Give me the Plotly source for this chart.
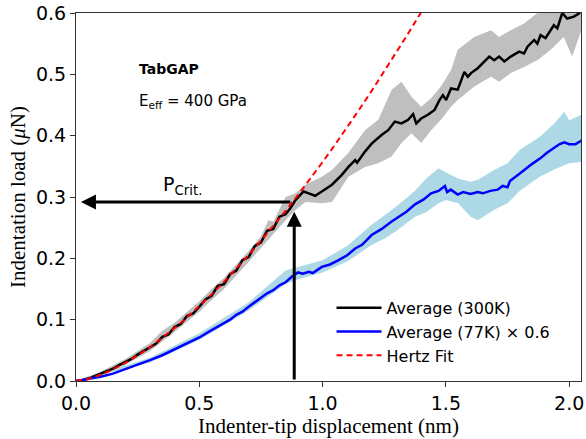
import plotly.graph_objects as go

# ---------------- data ----------------
# Hertz fit (red dashed)
hertz_x = [0.0, 0.05, 0.1, 0.15, 0.2, 0.25, 0.3, 0.35, 0.4, 0.45, 0.5, 0.55, 0.6, 0.65, 0.7,
           0.75, 0.8, 0.85, 0.9, 0.95, 1.0, 1.05, 1.1, 1.15, 1.2, 1.25, 1.3, 1.35, 1.4, 1.45]
hertz_y = [0.0, 0.0034, 0.0101, 0.0189, 0.0295, 0.0416, 0.0552, 0.0701, 0.0863, 0.1036, 0.1219,
           0.1413, 0.1617, 0.1831, 0.2054, 0.2286, 0.2526, 0.2775, 0.3032, 0.3297, 0.357, 0.385,
           0.4138, 0.4434, 0.4736, 0.5045, 0.5361, 0.5684, 0.6014, 0.635]

# Average 300K (black)
avg300_x = [0.0, 0.025, 0.05, 0.075, 0.1, 0.125, 0.15, 0.175, 0.2, 0.225, 0.25, 0.275, 0.3, 0.325,
            0.35, 0.375, 0.4, 0.425, 0.45, 0.475, 0.5, 0.525, 0.55, 0.575, 0.6, 0.625, 0.65, 0.675,
            0.7, 0.725, 0.75, 0.775, 0.8, 0.825, 0.85, 0.87, 0.89, 0.923, 0.944, 0.97, 0.997, 1.038,
            1.078, 1.105, 1.132, 1.14, 1.172, 1.199, 1.239, 1.266, 1.293, 1.32, 1.347, 1.367, 1.38,
            1.4, 1.427, 1.454, 1.474, 1.488, 1.501, 1.521, 1.548, 1.575, 1.589, 1.602, 1.629, 1.656,
            1.676, 1.696, 1.716, 1.737, 1.763, 1.797, 1.817, 1.831, 1.858, 1.871, 1.884, 1.904,
            1.925, 1.938, 1.952, 1.972, 1.992, 2.019, 2.039, 2.05]
avg300_y = [0.0, 0.001, 0.004, 0.008, 0.011, 0.016, 0.020, 0.026, 0.031, 0.036, 0.043, 0.049, 0.055,
            0.061, 0.072, 0.076, 0.088, 0.093, 0.106, 0.110, 0.121, 0.133, 0.139, 0.155, 0.158,
            0.174, 0.180, 0.197, 0.202, 0.220, 0.226, 0.245, 0.248, 0.268, 0.272, 0.282, 0.295,
            0.309, 0.306, 0.302, 0.309, 0.320, 0.336, 0.349, 0.360, 0.356, 0.374, 0.387, 0.401,
            0.409, 0.423, 0.420, 0.426, 0.435, 0.420, 0.428, 0.434, 0.442, 0.458, 0.466, 0.458,
            0.477, 0.475, 0.504, 0.496, 0.502, 0.510, 0.521, 0.529, 0.523, 0.529, 0.521, 0.529,
            0.537, 0.534, 0.545, 0.556, 0.550, 0.564, 0.559, 0.572, 0.580, 0.575, 0.600, 0.591,
            0.594, 0.599, 0.605]

# 300K spread (grey band)
band300_x = [0.0, 0.1, 0.2, 0.3, 0.35, 0.4, 0.5, 0.55, 0.6, 0.65, 0.7, 0.75, 0.78, 0.8, 0.85,
             0.89, 0.93, 0.997, 1.038, 1.105, 1.172, 1.226, 1.28, 1.32, 1.36, 1.4, 1.44, 1.48,
             1.521, 1.548, 1.615, 1.683, 1.716, 1.763, 1.817, 1.871, 1.925, 1.978, 2.012, 2.05]
band300_lo = [0.0, 0.008, 0.026, 0.049, 0.064, 0.08, 0.113, 0.132, 0.15, 0.172, 0.194, 0.217,
              0.232, 0.24, 0.262, 0.279, 0.292, 0.29, 0.292, 0.333, 0.349, 0.355, 0.366, 0.388,
              0.404, 0.388, 0.409, 0.426, 0.447, 0.458, 0.48, 0.496, 0.488, 0.502, 0.512, 0.523,
              0.54, 0.561, 0.529, 0.572]
band300_hi = [0.0, 0.015, 0.036, 0.062, 0.082, 0.095, 0.13, 0.15, 0.168, 0.19, 0.212, 0.236,
              0.262, 0.26, 0.3, 0.306, 0.32, 0.333, 0.344, 0.372, 0.409, 0.426, 0.475, 0.488,
              0.464, 0.447, 0.461, 0.48, 0.507, 0.54, 0.561, 0.572, 0.561, 0.572, 0.583, 0.6,
              0.63, 0.64, 0.63, 0.63]

# Average 77K x 0.6 (blue)
avg77_x = [0.0, 0.05, 0.1, 0.15, 0.2, 0.25, 0.3, 0.35, 0.4, 0.45, 0.5, 0.55, 0.6, 0.625, 0.65,
           0.675, 0.7, 0.725, 0.75, 0.775, 0.8, 0.825, 0.85, 0.875, 0.9, 0.92, 0.944, 0.96, 0.997,
           1.03, 1.065, 1.1, 1.132, 1.16, 1.199, 1.24, 1.28, 1.31, 1.34, 1.375, 1.41, 1.44, 1.47,
           1.496, 1.505, 1.52, 1.548, 1.57, 1.6, 1.629, 1.65, 1.68, 1.71, 1.73, 1.75, 1.76, 1.79,
           1.818, 1.85, 1.883, 1.91, 1.94, 1.96, 1.98, 2.0, 2.025, 2.05]
avg77_y = [0.0, 0.003, 0.007, 0.012, 0.019, 0.026, 0.034, 0.042, 0.052, 0.061, 0.071, 0.083,
           0.095, 0.100, 0.108, 0.113, 0.121, 0.128, 0.135, 0.143, 0.148, 0.156, 0.161, 0.170,
           0.177, 0.175, 0.178, 0.176, 0.186, 0.190, 0.197, 0.205, 0.216, 0.222, 0.238, 0.248,
           0.260, 0.268, 0.276, 0.288, 0.296, 0.306, 0.310, 0.318, 0.308, 0.312, 0.304, 0.308,
           0.305, 0.308, 0.306, 0.310, 0.312, 0.318, 0.316, 0.326, 0.336, 0.344, 0.354, 0.363,
           0.372, 0.380, 0.386, 0.389, 0.386, 0.386, 0.392]

# 77K spread (light-blue band)
band77_x = [0.0, 0.3, 0.5, 0.7, 0.85, 0.9, 1.0, 1.1, 1.2, 1.25, 1.3, 1.375, 1.42, 1.47, 1.5,
            1.55, 1.6, 1.63, 1.7, 1.75, 1.8, 1.88, 1.94, 1.98, 2.0, 2.05]
band77_lo = [0.0, 0.03, 0.067, 0.115, 0.158, 0.166, 0.177, 0.195, 0.222, 0.232, 0.245, 0.268,
             0.275, 0.29, 0.295, 0.29, 0.268, 0.262, 0.28, 0.29, 0.31, 0.333, 0.345, 0.352,
             0.355, 0.357]
band77_hi = [0.0, 0.038, 0.078, 0.128, 0.18, 0.186, 0.197, 0.22, 0.255, 0.27, 0.285, 0.31,
             0.33, 0.347, 0.34, 0.33, 0.325, 0.328, 0.345, 0.355, 0.377, 0.398, 0.42, 0.439,
             0.425, 0.434]

# critical point
h_crit = 0.885
p_crit = 0.292
p_arrow_tip = 0.276

x_ticks = [0.0, 0.5, 1.0, 1.5, 2.0]
y_ticks = [0.0, 0.1, 0.2, 0.3, 0.4, 0.5, 0.6]

# ---------------- figure ----------------
fig = go.Figure()

fig.add_trace(go.Scatter(
    x=band300_x + band300_x[::-1], y=band300_hi + band300_lo[::-1],
    fill="toself", fillcolor="#bfbfbf", line=dict(width=0), mode="lines",
    showlegend=False, hoverinfo="skip"))
fig.add_trace(go.Scatter(
    x=band77_x + band77_x[::-1], y=band77_hi + band77_lo[::-1],
    fill="toself", fillcolor="#add8e6", line=dict(width=0), mode="lines",
    showlegend=False, hoverinfo="skip"))

fig.add_trace(go.Scatter(x=avg300_x, y=avg300_y, mode="lines",
                         line=dict(color="black", width=2.5),
                         name="Average (300K)", legendgroup="a"))
fig.add_trace(go.Scatter(x=avg77_x, y=avg77_y, mode="lines",
                         line=dict(color="#0000ff", width=2.5),
                         name="Average (77K) × 0.6", legendgroup="b"))
fig.add_trace(go.Scatter(x=hertz_x, y=hertz_y, mode="lines",
                         line=dict(color="#ff0000", width=2, dash="6px,4px"),
                         name="Hertz Fit", legendgroup="c"))

axis_common = dict(
    showline=True, linecolor="#333333", linewidth=1, mirror=True,
    ticks="outside", ticklen=5, tickcolor="#333333", tickwidth=1,
    showgrid=False, zeroline=False, ticklabeloverflow="allow",
    tickfont=dict(family="DejaVu Sans", size=19, color="black"),
)

fig.update_xaxes(range=[0, 2.048], tickvals=x_ticks, ticktext=[f"{v:.1f}" for v in x_ticks],
                 title=dict(text="Indenter-tip displacement (nm)",
                            font=dict(family="Liberation Serif", size=21, color="black"),
                            standoff=2),
                 **axis_common)
fig.update_yaxes(range=[0, 0.6], tickvals=y_ticks, ticktext=[f"{v:.1f}" for v in y_ticks],
                 title=dict(text="Indentation load (<i>μ</i>N)",
                            font=dict(family="Liberation Serif", size=21, color="black"),
                            standoff=4),
                 **axis_common)

# arrows
fig.add_annotation(x=0.02, y=p_crit, ax=h_crit - 0.01, ay=p_crit, xref="x", yref="y",
                   axref="x", ayref="y", text="", showarrow=True, arrowhead=2,
                   arrowsize=1, arrowwidth=3, arrowcolor="black", standoff=0)
fig.add_annotation(x=h_crit, y=p_arrow_tip, ax=h_crit, ay=0, xref="x", yref="y",
                   axref="x", ayref="y", text="", showarrow=True, arrowhead=2,
                   arrowsize=1, arrowwidth=3, arrowcolor="black", standoff=0)

fig.add_annotation(x=0.43, y=0.318, xref="x", yref="y", text="P<sub>Crit.</sub>",
                   showarrow=False, font=dict(family="DejaVu Sans", size=19, color="black"),
                   xanchor="center", yanchor="middle")
fig.add_annotation(x=0.248, y=0.508, xref="x", yref="y", text="<b>TabGAP</b>",
                   showarrow=False, font=dict(family="DejaVu Sans", size=14, color="black"),
                   xanchor="left", yanchor="middle")
fig.add_annotation(x=0.248, y=0.455, xref="x", yref="y", text="E<sub>eff</sub> = 400 GPa",
                   showarrow=False, font=dict(family="DejaVu Sans", size=15, color="black"),
                   xanchor="left", yanchor="middle")

fig.update_layout(
    width=586, height=439,
    margin=dict(l=76, r=2, t=13, b=58),
    paper_bgcolor="white", plot_bgcolor="white",
    legend=dict(x=0.506, y=0.245, xanchor="left", yanchor="top",
                font=dict(family="DejaVu Sans", size=16, color="black"),
                bgcolor="rgba(0,0,0,0)", traceorder="grouped", tracegroupgap=0,
                itemwidth=45),
    showlegend=True,
)

fig.write_html("out.html")
